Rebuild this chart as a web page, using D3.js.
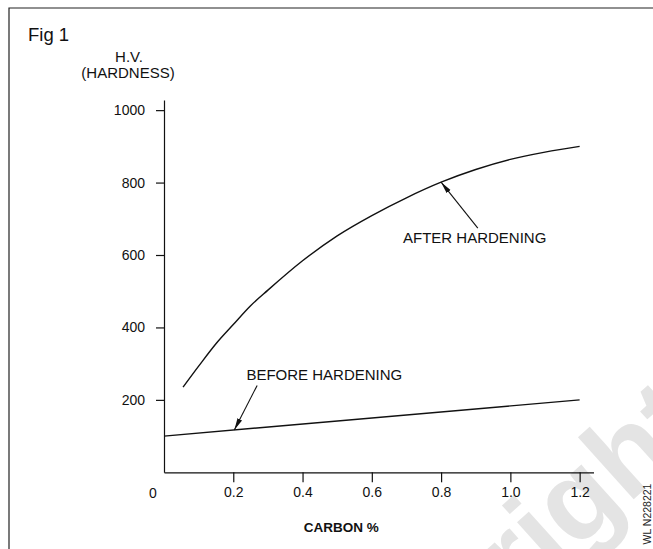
<!DOCTYPE html>
<html>
<head>
<meta charset="utf-8">
<script src="https://cdn.jsdelivr.net/npm/d3@7"></script>
<style>
  html, body { margin: 0; padding: 0; background: #fff; }
  svg { display: block; font-family: "Liberation Sans", Arial, sans-serif; }
</style>
</head>
<body>
<svg id="chart" width="653" height="549"></svg>
<script>
// ---- data ----
const afterCarbon   = [0.055, 0.1, 0.15, 0.2, 0.25, 0.3, 0.4, 0.5, 0.6, 0.7, 0.8, 0.9, 1.0, 1.1, 1.2];
const afterHardness = [235, 293, 355, 408, 460, 503, 584, 653, 709, 758, 801, 836, 864, 884, 900];
const beforeCarbon   = [0, 1.2];
const beforeHardness = [100, 200];
const xTicks = [0.2, 0.4, 0.6, 0.8, 1.0, 1.2];
const yTicks = [200, 400, 600, 800, 1000];
const figTitle = "Fig 1";
const yTitle = ["H.V.", "(HARDNESS)"];
const xTitle = "CARBON %";
const annotations = [
  { text: "AFTER HARDENING",  tx: 0.69,  ty: 633, fromX: 0.906, fromY: 674, toX: 0.8,   toY: 801 },
  { text: "BEFORE HARDENING", tx: 0.238, ty: 255, fromX: 0.269, fromY: 240, toX: 0.203, toY: 117 }
];
const watermarkId = "WL N228221";
const watermark = "Copyright";

// ---- drawing ----
const svg = d3.select("#chart");
const W = 653, H = 549;
const x = d3.scaleLinear().domain([0, 1.24]).range([164, 593.5]);
const y = d3.scaleLinear().domain([0, 1028]).range([472.3, 100]);

// watermark (underneath)
svg.append("text")
  .attr("transform", "translate(446,668) rotate(-42)")
  .attr("font-size", 115)
  .attr("font-weight", "bold")
  .attr("fill", "#e4e4e4")
  .attr("text-anchor", "start")
  .attr("dx", -190)
  .text(watermark);

// frame (top and left edges visible)
svg.append("path")
  .attr("d", `M9,${H + 2} V8 H${W + 2}`)
  .attr("fill", "none").attr("stroke", "#222").attr("stroke-width", 1.2);

svg.append("text").attr("x", 28).attr("y", 41)
  .attr("font-size", 18.5).attr("fill", "#111").text(figTitle);

svg.append("text").attr("x", 129).attr("y", 62).attr("text-anchor", "middle")
  .attr("font-size", 15).attr("fill", "#111").text(yTitle[0]);
svg.append("text").attr("x", 128).attr("y", 78).attr("text-anchor", "middle")
  .attr("font-size", 15).attr("fill", "#111").text(yTitle[1]);

// axes
const xAxis = d3.axisBottom(x).tickValues(xTicks).tickSizeInner(10).tickSizeOuter(0)
  .tickPadding(5).tickFormat(d3.format(".1f"));
const gx = svg.append("g").attr("transform", `translate(0,${y(0)})`).call(xAxis);
gx.attr("font-family", null);
gx.selectAll("text").attr("font-size", 14).attr("fill", "#111");
gx.selectAll("line,path").attr("stroke", "#111").attr("stroke-width", 1.2);

const yAxis = d3.axisLeft(y).tickValues(yTicks).tickSizeInner(8).tickSizeOuter(0)
  .tickPadding(11).tickFormat(d3.format("d"));
const gy = svg.append("g").attr("transform", `translate(${x(0)},0)`).call(yAxis);
gy.attr("font-family", null);
gy.selectAll("text").attr("font-size", 14).attr("fill", "#111");
gy.selectAll("line,path").attr("stroke", "#111").attr("stroke-width", 1.2);

// origin label
svg.append("text").attr("x", x(0) - 11).attr("y", y(0) + 26)
  .attr("text-anchor", "middle").attr("font-size", 14).attr("fill", "#111").text("0");

// x title
svg.append("text").attr("x", x(0.5) + 4).attr("y", y(0) + 60)
  .attr("text-anchor", "middle").attr("font-size", 13.5).attr("font-weight", "bold")
  .attr("fill", "#111").text(xTitle);

// curves
const line = d3.line().x(d => x(d[0])).y(d => y(d[1])).curve(d3.curveMonotoneX);
svg.append("path").datum(afterCarbon.map((c, i) => [c, afterHardness[i]]))
  .attr("d", line).attr("fill", "none").attr("stroke", "#111").attr("stroke-width", 1.4);
svg.append("path").datum(beforeCarbon.map((c, i) => [c, beforeHardness[i]]))
  .attr("d", line).attr("fill", "none").attr("stroke", "#111").attr("stroke-width", 1.4);

// annotations
svg.append("defs").append("marker")
  .attr("id", "arrow").attr("viewBox", "0 0 12 6").attr("refX", 12).attr("refY", 3)
  .attr("markerWidth", 12).attr("markerHeight", 6).attr("markerUnits", "userSpaceOnUse")
  .attr("orient", "auto")
  .append("path").attr("d", "M0,0.5 L12,3 L0,5.5 Z").attr("fill", "#111");

annotations.forEach(a => {
  svg.append("text").attr("x", x(a.tx)).attr("y", y(a.ty))
    .attr("font-size", 15).attr("fill", "#111").text(a.text);
  svg.append("line")
    .attr("x1", x(a.fromX)).attr("y1", y(a.fromY))
    .attr("x2", x(a.toX)).attr("y2", y(a.toY))
    .attr("stroke", "#111").attr("stroke-width", 1.1)
    .attr("marker-end", "url(#arrow)");
});

// side id
svg.append("text")
  .attr("transform", `translate(651,514) rotate(-90)`)
  .attr("text-anchor", "middle").attr("font-size", 10.5).attr("fill", "#222")
  .text(watermarkId);
</script>
</body>
</html>
